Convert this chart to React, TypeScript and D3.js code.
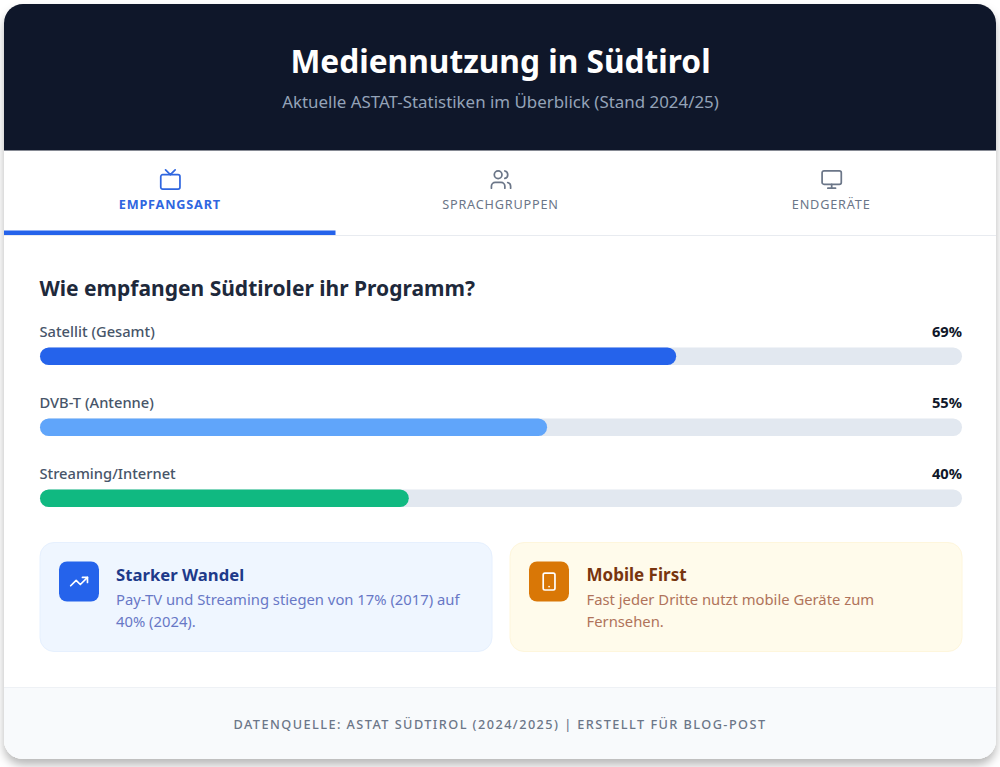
import React from 'react';
import { scaleBand, scaleLinear } from 'd3';

const categories = ['Satellit (Gesamt)', 'DVB-T (Antenne)', 'Streaming/Internet'];
const shares = [69, 55, 40];
const barColors = ['#2563eb', '#60a5fa', '#10b981'];
const tabLabels = ['EMPFANGSART', 'SPRACHGRUPPEN', 'ENDGERÄTE'];

const font = '"Noto Sans", sans-serif';

const xScale = scaleLinear().domain([0, 100]).range([40, 962]);
const rowScale = scaleBand().domain(categories).range([322, 535]);
const tabScale = scaleBand().domain(tabLabels).range([4, 996]);

const TabIcon = ({ index, color }: { index: number; color: string }) => {
    const common = { fill: 'none', stroke: color, strokeWidth: 1.8, strokeLinecap: 'round' as const, strokeLinejoin: 'round' as const };
    if (index === 0) {
        return (
            <g {...common}>
                <rect x={2} y={7} width={20} height={15} rx={2} />
                <polyline points="17 2 12 7 7 2" />
            </g>
        );
    }
    if (index === 1) {
        return (
            <g {...common}>
                <path d="M16 21v-2a4 4 0 0 0-4-4H6a4 4 0 0 0-4 4v2" />
                <circle cx={9} cy={7} r={4} />
                <path d="M22 21v-2a4 4 0 0 0-3-3.87" />
                <path d="M16 3.13a4 4 0 0 1 0 7.75" />
            </g>
        );
    }
    return (
        <g {...common}>
            <rect x={2} y={3} width={20} height={14} rx={2} />
            <line x1={8} y1={21} x2={16} y2={21} />
            <line x1={12} y1={17} x2={12} y2={21} />
        </g>
    );
};

const App: React.FC = () => {
    const trackH = 17.5;
    return (
        <svg width={1000} height={767} style={{ position: 'absolute', left: 0, top: 0 }} fontFamily={font}>
            <defs>
                <filter id="shadow" x="-5%" y="-5%" width="110%" height="110%">
                    <feDropShadow dx={0} dy={6} stdDeviation={5} floodColor="#000" floodOpacity={0.28} />
                </filter>
                <clipPath id="card">
                    <rect x={4} y={4} width={992} height={755} rx={19} />
                </clipPath>
            </defs>

            <rect x={4} y={4} width={992} height={755} rx={19} fill="#fff" filter="url(#shadow)" />

            <g clipPath="url(#card)">
                <rect x={4} y={4} width={992} height={146.5} fill="#0f172a" />
                <rect x={4} y={687} width={992} height={72} fill="#f8fafc" />
                <rect x={4} y={687} width={992} height={1} fill="#eef1f5" />
                <rect x={4} y={235} width={992} height={1} fill="#e8ebf0" />
                <rect x={4} y={230.5} width={331.5} height={4.5} fill="#2563eb" />
            </g>

            <text x={500.5} y={72.5} textAnchor="middle" fontSize={31.7} fontWeight={700} fill="#fff">Mediennutzung in Südtirol</text>
            <text x={500.5} y={108} textAnchor="middle" fontSize={16.9} fill="#94a3b8">Aktuelle ASTAT-Statistiken im Überblick (Stand 2024/25)</text>

            {tabLabels.map((label, i) => {
                const cx = tabScale(label)! + tabScale.bandwidth() / 2;
                const color = i === 0 ? '#2f66e0' : '#6b7688';
                return (
                    <g key={label}>
                        <g transform={`translate(${cx - 10.5},168) scale(0.96)`}>
                            <TabIcon index={i} color={color} />
                        </g>
                        <text x={cx + 0.5} y={209} textAnchor="middle" fontSize={12.7} fontWeight={i === 0 ? 700 : 400} letterSpacing={0.8} fill={color}>{label}</text>
                    </g>
                );
            })}

            <text x={39.5} y={296} fontSize={21} fontWeight={700} fill="#1e293b">Wie empfangen Südtiroler ihr Programm?</text>

            {categories.map((name, i) => {
                const top = rowScale(name)!;
                return (
                    <g key={name}>
                        <text x={39.5} y={top + 15} fontSize={14.7} fontWeight={500} fill="#475569">{name}</text>
                        <text x={962} y={top + 15} textAnchor="end" fontSize={14.7} fontWeight={700} fill="#0f172a">{shares[i]}%</text>
                        <rect x={xScale(0)} y={top + 25.5} width={xScale(100) - xScale(0)} height={trackH} rx={trackH / 2} fill="#e2e8f0" />
                        <rect x={xScale(0)} y={top + 25.5} width={xScale(shares[i]) - xScale(0)} height={trackH} rx={trackH / 2} fill={barColors[i]} />
                    </g>
                );
            })}

            <rect x={40} y={542.5} width={452} height={109} rx={14} fill="#eff6ff" stroke="#e6f0fe" />
            <rect x={59} y={561.5} width={40} height={40} rx={8} fill="#2563eb" />
            <g transform="translate(69,571.5) scale(0.84)" fill="none" stroke="#fff" strokeWidth={2} strokeLinecap="round" strokeLinejoin="round">
                <polyline points="22 7 13.5 15.5 8.5 10.5 2 17" />
                <polyline points="16 7 22 7 22 13" />
            </g>
            <text x={116} y={581} fontSize={16.7} fontWeight={700} fill="#1e3a8a">Starker Wandel</text>
            <text x={116} y={605} fontSize={14.8} fill="#6878c6">Pay-TV und Streaming stiegen von 17% (2017) auf</text>
            <text x={116} y={627} fontSize={14.8} fill="#6878c6">40% (2024).</text>

            <rect x={510} y={542.5} width={452} height={109} rx={14} fill="#fffbeb" stroke="#fef6dc" />
            <rect x={529} y={561.5} width={40} height={40} rx={8} fill="#d97706" />
            <g transform="translate(539,571.5) scale(0.84)" fill="none" stroke="#fff" strokeWidth={2} strokeLinecap="round" strokeLinejoin="round">
                <rect x={5} y={2} width={14} height={20} rx={2} />
                <path d="M12 18h.01" />
            </g>
            <text x={586.5} y={581} fontSize={17} fontWeight={700} fill="#78350f">Mobile First</text>
            <text x={586.5} y={605} fontSize={14.8} fill="#b0735a">Fast jeder Dritte nutzt mobile Geräte zum</text>
            <text x={586.5} y={627} fontSize={14.8} fill="#b0735a">Fernsehen.</text>

            <text x={500} y={729} textAnchor="middle" fontSize={12.7} fontWeight={500} letterSpacing={1.45} fill="#6b7688">DATENQUELLE: ASTAT SÜDTIROL (2024/2025) | ERSTELLT FÜR BLOG-POST</text>
        </svg>
    );
};

export default App;
